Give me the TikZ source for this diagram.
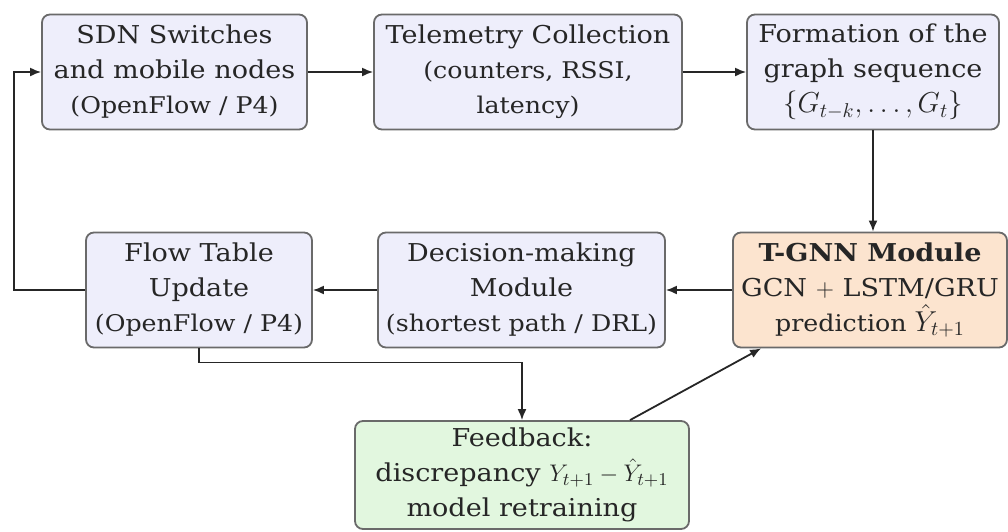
\documentclass[tikz,border=0pt]{standalone}
\usepackage{amsmath}
\usepackage{fontspec}
\setmainfont{DejaVu Serif}[FakeStretch = 1.1]
\usetikzlibrary{arrows.meta}

\definecolor{boxblue}{HTML}{EEEEFB}
\definecolor{boxorange}{HTML}{FCE4CF}
\definecolor{boxgreen}{HTML}{E2F7DF}
\definecolor{edgegray}{HTML}{6A6A6A}

\newcommand{\sub}[1]{{\fontsize{11.5pt}{17.5pt}\selectfont #1}}
\newcommand{\bigmath}[1]{{\fontsize{14pt}{17.5pt}\selectfont #1}}

\begin{document}
\begin{tikzpicture}[x = 0.5pt, y = -0.5pt,
		block/.style = {draw = edgegray, line width = 0.9pt, fill = boxblue,
			rounded corners = 4pt, align = center, inner sep = 1pt,
			minimum height = 57.5pt, text = black!85,
			font = \fontsize{12.3pt}{17.5pt}\selectfont},
		flow/.style = {-{Latex[length = 5.5pt, width = 4.5pt]}, line width = 0.9pt, black!85}]
			\def\rowA{72};
			\def\rowB{290};

			\useasboundingbox (0,0) rectangle (1008,531);

			% top row: data path
			\node [block, minimum width = 132.5pt] (sdn) at (174.5,\rowA) {SDN Switches\\and mobile nodes\\\sub{(OpenFlow / P4)}};
			\node [block, minimum width = 154pt] (tel) at (528,\rowA) {Telemetry Collection\\\sub{(counters, RSSI,}\\\sub{latency)}};
			\node [block, minimum width = 126pt] (form) at (873,\rowA) {Formation of the\\graph sequence\\\bigmath{$\{G_{t-k},\ldots,G_t\}$}};

			% bottom row: model and control
			\node [block, minimum width = 137pt, fill = boxorange] (tgnn) at (870,\rowB) {\textbf{T-GNN Module}\\GCN $+$ LSTM/GRU\\\sub{prediction \bigmath{$\hat{Y}_{t+1}$}}};
			\node [block, minimum width = 143.5pt] (dec) at (521.5,\rowB) {Decision-making\\Module\\\sub{(shortest path / DRL)}};
			\node [block, minimum width = 113pt] (flowtab) at (199,\rowB) {Flow Table\\Update\\\sub{(OpenFlow / P4)}};

			\node [block, minimum width = 167pt, minimum height = 54pt, fill = boxgreen] (feed) at (522,475) {Feedback:\\discrepancy $Y_{t+1}-\hat{Y}_{t+1}$\\model retraining};

			\coordinate (loop) at (14,\rowB);

			\begin{scope}[flow]
				\draw (sdn) -- (tel);
				\draw (tel) -- (form);
				\draw (form.south) -- (form.south |- tgnn.north);
				\draw (tgnn) -- (dec);
				\draw (dec) -- (flowtab);
				\draw (flowtab.west) -- (loop) |- (sdn.west);
				\draw (flowtab.south) -- ++(0,14) -| (feed.north);
				\draw ([xshift = 54pt]feed.north) -- ([xshift = 14.5pt]tgnn.south west);
			\end{scope}
		\end{tikzpicture}
\end{document}
